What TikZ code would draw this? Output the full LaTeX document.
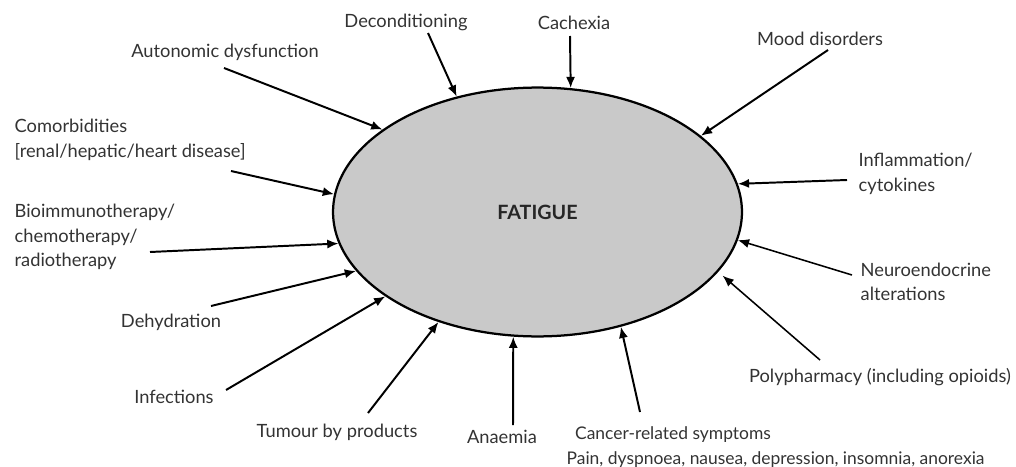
\documentclass[tikz,border=0pt]{standalone}
\usepackage{fontspec}
\setmainfont{Lato}
\usepackage{tikz}
\usetikzlibrary{arrows.meta,shapes.geometric}

\begin{document}
\begin{tikzpicture}[
  x=0.025cm, y=-0.025cm,
  >={Latex[length=8pt,width=6.5pt]},
  font=\fontsize{13}{17.5}\selectfont,
  cause/.style={
    text=black!80,
    inner sep=1pt
  },
  multi/.style={
    cause,
    align=left,
    anchor=west
  },
  core/.style={
    ellipse,
    draw=black,
    line width=1.6pt,
    fill=black!21,
    minimum width=10.22cm,
    minimum height=6.22cm,
    inner sep=0pt,
    font=\fontsize{14}{17}\selectfont\bfseries,
    text=black!85
  },
  edge/.style={
    draw=black,
    line width=1.4pt,
    ->
  },
  thinedge/.style={
    edge,
    line width=1.1pt
  }
]
\useasboundingbox (0,0) rectangle (1016,466);

% Centre
\node[core] (fatigue) at (537.5,212) {FATIGUE};

% Causes, clockwise from the top
\node[cause] (deco) at (406,22)  {Deconditioning};
\node[cause] (cach) at (574,23)  {Cachexia};
\node[cause] (mood) at (820,39)  {Mood disorders};
\node[multi] (infl) at (857,174) {Inflammation/\\cytokines};
\node[multi] (neur) at (859,282) {Neuroendocrine\\alterations};
\node[cause] (poly) at (880,377) {Polypharmacy (including opioids)};
\node[multi, font=\fontsize{12.4}{17.5}\selectfont] (canc) at (565,447)
  {\hspace*{6pt}Cancer-related symptoms\\Pain, dyspnoea, nausea, depression, insomnia, anorexia};
\node[cause] (anae) at (502,437) {Anaemia};
\node[cause] (tumo) at (337,432) {Tumour by products};
\node[cause] (infe) at (174,397) {Infections};
\node[cause] (dehy) at (171,322) {Dehydration};
\node[multi] (bio)  at (13,237)  {Bioimmunotherapy/\\chemotherapy/\\radiotherapy};
\node[multi] (como) at (13,140)  {Comorbidities\\{[}renal/hepatic/heart disease{]}};
\node[cause] (auto) at (225,52)  {Autonomic dysfunction};

% Arrow tails
\coordinate (decoT) at (428,33);
\coordinate (cachT) at (570,36);
\coordinate (moodT) at (828,50);
\coordinate (inflT) at (847,180);
\coordinate (neurT) at (852,275);
\coordinate (polyT) at (820,360);
\coordinate (cancT) at (640,412);
\coordinate (anaeT) at (513,425);
\coordinate (tumoT) at (368,413);
\coordinate (infeT) at (226,390);
\coordinate (dehyT) at (211,306);
\coordinate (bioT)  at (150,252);
\coordinate (comoT) at (231,171);
\coordinate (autoT) at (224,68);

% Arrows into the ellipse
\draw[edge] (decoT) -- (fatigue.125.2);
\draw[edge] (cachT) -- (fatigue.75.3);
\draw[edge] (moodT) -- (fatigue.25.4);
\draw[edge] (inflT) -- (fatigue.8.9);
\draw[thinedge] (neurT) -- (fatigue.-8.8);
\draw[thinedge] (polyT) -- ([shift={(6,2)}]fatigue.-19.6);
\draw[edge] (cancT) -- (fatigue.-54.4);
\draw[edge] (anaeT) -- (fatigue.-101.4);
\draw[edge] (tumoT) -- (fatigue.-132.9);
\draw[edge] (infeT) -- (fatigue.-151);
\draw[edge] (dehyT) -- (fatigue.-162.4);
\draw[edge] (bioT)  -- (fatigue.-171.4);
\draw[edge] (comoT) -- (fatigue.175.8);
\draw[edge] (autoT) -- (fatigue.152.7);

\end{tikzpicture}
\end{document}
